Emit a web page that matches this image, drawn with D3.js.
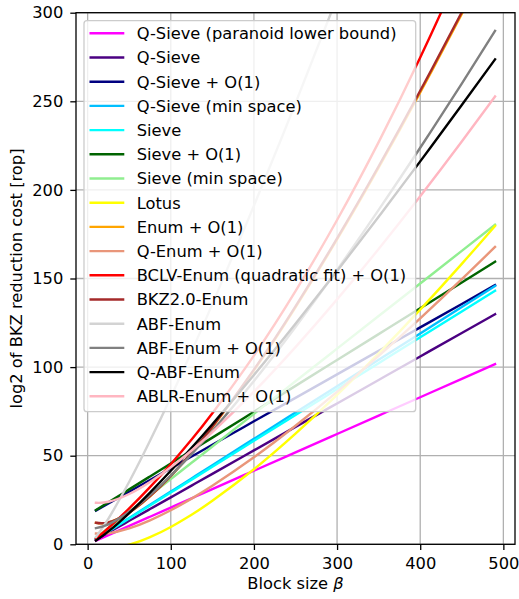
<!DOCTYPE html>
<html>
<head>
<meta charset="utf-8">
<script src="https://cdn.jsdelivr.net/npm/d3@7"></script>
<style>
  html, body { margin: 0; padding: 0; background: #fff; }
  svg { display: block; }
  text { font-family: "DejaVu Sans", sans-serif; fill: #000; }
</style>
</head>
<body>
<svg id="chart" width="519" height="599"></svg>
<script>
// Block sizes at which every cost model is sampled
const betas = [10, 25, 50, 75, 100, 125, 150, 200, 250, 300, 350, 400, 450, 490];

// log2 cost per model (same order as betas)
const qSieveParanoid = [2.08, 5.19, 10.38, 15.56, 20.75, 25.94, 31.13, 41.5, 51.88, 62.25, 72.63, 83.0, 93.38, 101.68];
const qSieve         = [2.65, 6.63, 13.25, 19.88, 26.5, 33.13, 39.75, 53.0, 66.25, 79.5, 92.75, 106.0, 119.25, 129.85];
const qSieveO1       = [19.05, 23.03, 29.65, 36.28, 42.9, 49.53, 56.15, 69.4, 82.65, 95.9, 109.15, 122.4, 135.65, 146.25];
const qSieveMinSpace = [2.98, 7.44, 14.88, 22.31, 29.75, 37.19, 44.63, 59.5, 74.38, 89.25, 104.13, 119.0, 133.88, 145.78];
const sieve          = [2.92, 7.3, 14.6, 21.9, 29.2, 36.5, 43.8, 58.4, 73.0, 87.6, 102.2, 116.8, 131.4, 143.08];
const sieveO1        = [19.32, 23.7, 31.0, 38.3, 45.6, 52.9, 60.2, 74.8, 89.4, 104.0, 118.6, 133.2, 147.8, 159.48];
const sieveMinSpace  = [3.68, 9.2, 18.4, 27.6, 36.8, 46.0, 55.2, 73.6, 92.0, 110.4, 128.8, 147.2, 165.6, 180.32];
const lotus          = [-1.15, -2.12, -0.23, 4.02, 9.8, 16.71, 24.54, 42.35, 62.43, 84.33, 107.74, 132.44, 158.28, 179.67];
const enumO1         = [12.12, 12.33, 17.92, 27.03, 38.44, 51.54, 66.02, 98.18, 133.75, 172.04, 212.58, 255.06, 299.23, 335.65];
const qEnumO1        = [6.06, 6.17, 8.96, 13.52, 19.22, 25.77, 33.01, 49.09, 66.88, 86.02, 106.29, 127.53, 149.62, 167.83];
const bclvEnum       = [3.03, 9.2, 20.25, 32.25, 45.2, 59.1, 73.95, 106.5, 142.85, 183.0, 226.95, 274.7, 326.25, 370.25];
const bkz20Enum      = [12.13, 12.36, 17.99, 27.15, 38.61, 51.77, 66.29, 98.57, 134.26, 172.67, 213.34, 255.96, 300.26, 336.78];
const abfEnum        = [4.15, 14.51, 35.27, 58.4, 83.05, 108.84, 135.54, 191.1, 248.93, 308.58, 369.74, 432.19, 495.78, 547.37];
const abfEnumO1      = [9.08, 11.23, 18.32, 27.77, 38.75, 50.86, 63.89, 92.1, 122.58, 154.88, 188.69, 223.79, 260.03, 289.74];
const qAbfEnum       = [2.08, 7.26, 17.64, 29.2, 41.52, 54.42, 67.77, 95.55, 124.47, 154.29, 184.87, 216.1, 247.89, 273.68];
const ablrEnumO1     = [23.45, 24.0, 28.41, 35.19, 43.49, 52.93, 63.28, 86.14, 111.27, 138.22, 166.68, 196.43, 227.32, 252.75];

const labels = [
  "Q-Sieve (paranoid lower bound)", "Q-Sieve", "Q-Sieve + O(1)", "Q-Sieve (min space)",
  "Sieve", "Sieve + O(1)", "Sieve (min space)", "Lotus", "Enum + O(1)", "Q-Enum + O(1)",
  "BCLV-Enum (quadratic fit) + O(1)", "BKZ2.0-Enum", "ABF-Enum", "ABF-Enum + O(1)",
  "Q-ABF-Enum", "ABLR-Enum + O(1)"
];
const seriesValues = [
  qSieveParanoid, qSieve, qSieveO1, qSieveMinSpace, sieve, sieveO1, sieveMinSpace, lotus,
  enumO1, qEnumO1, bclvEnum, bkz20Enum, abfEnum, abfEnumO1, qAbfEnum, ablrEnumO1
];
const colors = [
  "#ff00ff", "#4b0082", "#000080", "#00bfff", "#00ffff", "#006400", "#90ee90", "#ffff00",
  "#ffa500", "#e9967a", "#ff0000", "#a52a2a", "#d3d3d3", "#808080", "#000000", "#ffb6c1"
];

const xTicks = [0, 100, 200, 300, 400, 500];
const yTicks = [0, 50, 100, 150, 200, 250, 300];

const fontPx = "16.3px";
const svg = d3.select("#chart");
const plotLeft = 76, plotRight = 515, plotTop = 12.7, plotBottom = 544.3;

const x = d3.scaleLinear().domain([-14, 514]).range([plotLeft, plotRight]);
const y = d3.scaleLinear().domain([0, 300]).range([plotBottom, plotTop]);

svg.append("defs").append("clipPath").attr("id", "plotclip")
  .append("rect").attr("x", plotLeft).attr("y", plotTop)
  .attr("width", plotRight - plotLeft).attr("height", plotBottom - plotTop);

// grid
const grid = svg.append("g");
grid.selectAll(".gx").data(xTicks).enter().append("line")
  .attr("x1", d => x(d)).attr("x2", d => x(d)).attr("y1", plotTop).attr("y2", plotBottom)
  .attr("stroke", "#b0b0b0").attr("stroke-width", 1.3);
grid.selectAll(".gy").data(yTicks).enter().append("line")
  .attr("y1", d => y(d)).attr("y2", d => y(d)).attr("x1", plotLeft).attr("x2", plotRight)
  .attr("stroke", "#b0b0b0").attr("stroke-width", 1.3);

// curves
const line = d3.line().x(d => x(d[0])).y(d => y(d[1])).curve(d3.curveNatural);
const plot = svg.append("g").attr("clip-path", "url(#plotclip)");
seriesValues.forEach((vals, i) => {
  plot.append("path")
    .attr("d", line(betas.map((b, k) => [b, vals[k]])))
    .attr("fill", "none").attr("stroke", colors[i]).attr("stroke-width", 2.4)
    .attr("stroke-linecap", "square");
});

// axes
const xAxis = d3.axisBottom(x).tickValues(xTicks).tickSize(5.7).tickPadding(7.2);
const yAxis = d3.axisLeft(y).tickValues(yTicks).tickSize(5.7).tickPadding(7);
const gx = svg.append("g").attr("transform", `translate(0,${plotBottom})`).call(xAxis);
const gy = svg.append("g").attr("transform", `translate(${plotLeft},0)`).call(yAxis);
[gx, gy].forEach(g => {
  g.select(".domain").remove();
  g.selectAll("line").attr("stroke", "#000").attr("stroke-width", 1.3);
  g.selectAll("text").style("font-size", fontPx).style("font-family", "DejaVu Sans");
});

// frame
svg.append("rect").attr("x", plotLeft).attr("y", plotTop)
  .attr("width", plotRight - plotLeft).attr("height", plotBottom - plotTop)
  .attr("fill", "none").attr("stroke", "#000").attr("stroke-width", 1.3);

// axis titles
svg.append("text").attr("x", (plotLeft + plotRight) / 2).attr("y", 589)
  .attr("text-anchor", "middle").style("font-size", fontPx)
  .html('Block size <tspan font-style="italic">β</tspan>');
svg.append("text")
  .attr("transform", `translate(22,${(plotTop + plotBottom) / 2}) rotate(-90)`)
  .attr("text-anchor", "middle").style("font-size", fontPx)
  .text("log2 of BKZ reduction cost [rop]");

// legend
const lg = svg.append("g");
lg.append("rect").attr("x", 84).attr("y", 20.7).attr("width", 331.7).attr("height", 391)
  .attr("rx", 3).attr("fill", "#fff").attr("fill-opacity", 0.8)
  .attr("stroke", "#cccccc").attr("stroke-width", 1.3);
labels.forEach((lab, i) => {
  const cy = 33.3 + i * 24.2;
  lg.append("line").attr("x1", 89.5).attr("x2", 124.3).attr("y1", cy).attr("y2", cy)
    .attr("stroke", colors[i]).attr("stroke-width", 2.4);
  lg.append("text").attr("x", 136.7).attr("y", cy).attr("dy", "0.36em")
    .style("font-size", fontPx).text(lab);
});
</script>
</body>
</html>
